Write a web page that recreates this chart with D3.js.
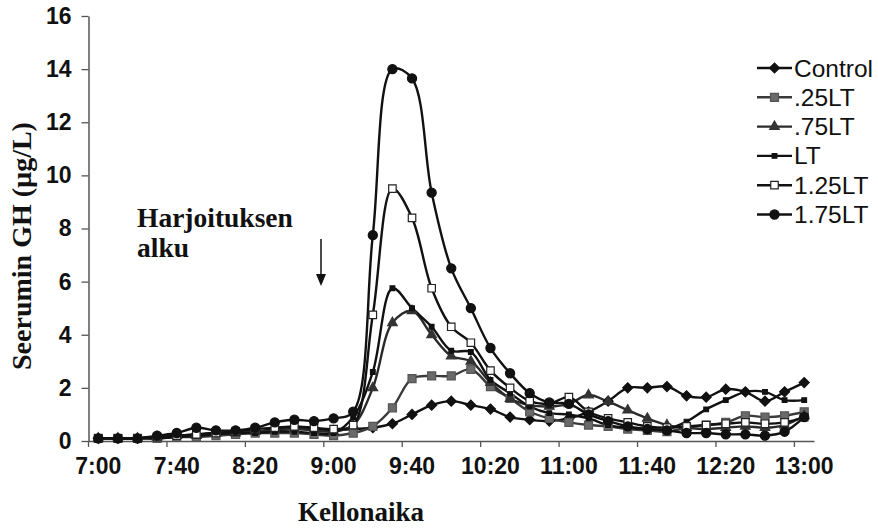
<!DOCTYPE html>
<html>
<head>
<meta charset="utf-8">
<script src="https://cdn.jsdelivr.net/npm/d3@7"></script>
<style>
  body { margin: 0; background: #fff; }
  svg { display: block; }
</style>
</head>
<body>
<div id="chart"></div>
<script>
// Chart size matches the browser window
let w = 878;
let h = 528;

// Time of day, one category every 10 minutes
const times = ["7:00","7:10","7:20","7:30","7:40","7:50","8:00","8:10","8:20","8:30","8:40","8:50",
  "9:00","9:10","9:20","9:30","9:40","9:50","10:00","10:10","10:20","10:30","10:40","10:50",
  "11:00","11:10","11:20","11:30","11:40","11:50","12:00","12:10","12:20","12:30","12:40","12:50","13:00"];
const xLabels = ["7:00","7:40","8:20","9:00","9:40","10:20","11:00","11:40","12:20","13:00"];
const yTicks = [0, 2, 4, 6, 8, 10, 12, 14, 16];

// Serum GH values (µg/L)
const control = [0.1,0.1,0.1,0.15,0.2,0.25,0.3,0.3,0.35,0.45,0.5,0.45,0.4,
  0.45,0.5,0.65,1.0,1.35,1.5,1.35,1.2,0.9,0.8,0.75,
  0.85,1.1,1.5,2.0,2.0,2.05,1.7,1.65,1.95,1.85,1.5,1.85,2.2];
const lt025 = [0.1,0.1,0.1,0.1,0.15,0.15,0.2,0.25,0.3,0.3,0.3,0.25,0.2,
  0.3,0.55,1.25,2.35,2.45,2.45,2.7,2.05,1.6,1.1,0.85,
  0.7,0.6,0.55,0.45,0.4,0.35,0.5,0.6,0.7,0.95,0.9,0.95,1.1];
const lt075 = [0.1,0.1,0.1,0.15,0.2,0.2,0.3,0.3,0.35,0.4,0.45,0.4,0.35,
  0.6,2.0,4.45,4.9,4.0,3.2,3.0,2.2,1.6,1.35,1.3,
  1.4,1.73,1.48,1.16,0.85,0.6,0.5,0.45,0.5,0.55,0.5,0.6,0.95];
const lt100 = [0.1,0.1,0.1,0.1,0.15,0.2,0.25,0.3,0.3,0.35,0.35,0.3,0.3,
  0.9,2.6,5.75,5.0,4.3,3.4,3.35,2.3,1.8,1.3,1.05,
  1.0,0.85,0.6,0.5,0.45,0.45,0.73,1.19,1.54,1.85,1.85,1.54,1.54];
const lt125 = [0.1,0.1,0.1,0.15,0.2,0.25,0.3,0.35,0.45,0.5,0.55,0.5,0.45,
  0.6,4.75,9.5,8.4,5.75,4.3,3.7,2.65,2.0,1.5,1.4,
  1.65,1.1,0.85,0.7,0.55,0.5,0.55,0.6,0.65,0.7,0.65,0.7,0.9];
const lt175 = [0.1,0.1,0.1,0.2,0.3,0.5,0.4,0.4,0.5,0.7,0.8,0.75,0.85,
  1.1,7.75,14.0,13.65,9.35,6.5,5.0,3.5,2.55,1.8,1.45,
  1.4,1.0,0.75,0.55,0.45,0.4,0.3,0.3,0.25,0.25,0.2,0.35,0.9];

const seriesNames = ["Control", ".25LT", ".75LT", "LT", "1.25LT", "1.75LT"];
const seriesValues = [control, lt025, lt075, lt100, lt125, lt175];

// Marker style for each series (Excel style markers)
const markerStyle = [
  {type: d3.symbolSquare, size: 50, rotate: 45, fill: "#111", stroke: "#111", line: "#111"},
  {type: d3.symbolSquare, size: 64, rotate: 0, fill: "#6a6a6a", stroke: "#555", line: "#3a3a3a"},
  {type: d3.symbolTriangle, size: 40, rotate: 0, fill: "#333", stroke: "#333", line: "#2a2a2a"},
  {type: d3.symbolSquare, size: 22, rotate: 0, fill: "#111", stroke: "#111", line: "#111"},
  {type: d3.symbolSquare, size: 56, rotate: 0, fill: "#fff", stroke: "#222", line: "#111"},
  {type: d3.symbolCircle, size: 66, rotate: 0, fill: "#111", stroke: "#111", line: "#111"}
];

let series = seriesNames.map((name, k) => ({
  name: name,
  style: markerStyle[k],
  points: times.map((t, i) => ({t: t, v: seriesValues[k][i]}))
}));

// Scales: band scale for the time categories, linear for GH
let xScale = d3.scaleBand()
  .domain(times)
  .range([88.5, 814])
  .padding(0);
let yScale = d3.scaleLinear()
  .domain([0, 16])
  .range([441, 16]);
let cx = t => xScale(t) + xScale.bandwidth() / 2;

let svg = d3.select("#chart").append("svg")
  .attr("width", w)
  .attr("height", h);

// Y axis
let yAxis = svg.append("g")
  .attr("transform", "translate(88.5,0)")
  .call(d3.axisLeft(yScale).tickValues(yTicks).tickSize(7).tickPadding(10).tickSizeOuter(0));
yAxis.select(".domain").attr("stroke", "#555").attr("stroke-width", 1.5);
yAxis.selectAll(".tick line").attr("stroke", "#555").attr("stroke-width", 1.3);
yAxis.selectAll(".tick text")
  .attr("font-family", "'Liberation Sans', Arial, sans-serif")
  .attr("font-weight", "bold")
  .attr("font-size", "23px")
  .attr("fill", "#111");

// X axis: labels centred on categories, tick marks on category borders
let xAxis = svg.append("g")
  .attr("transform", "translate(0,441)")
  .call(d3.axisBottom(xScale).tickValues(xLabels).tickSize(0).tickPadding(17).tickSizeOuter(0));
xAxis.select(".domain").attr("stroke", "#555").attr("stroke-width", 1.5);
xAxis.selectAll(".tick text")
  .attr("font-family", "'Liberation Sans', Arial, sans-serif")
  .attr("font-weight", "bold")
  .attr("font-size", "23px")
  .attr("fill", "#111");
svg.append("g").selectAll("line")
  .data(xLabels)
  .enter()
  .append("line")
  .attr("x1", d => xScale(d))
  .attr("x2", d => xScale(d))
  .attr("y1", 441)
  .attr("y2", 447)
  .attr("stroke", "#555")
  .attr("stroke-width", 1.3);

// Lines (smoothed like the Excel original)
let line = d3.line()
  .x(d => cx(d.t))
  .y(d => yScale(d.v))
  .curve(d3.curveCatmullRom.alpha(0.5));

svg.append("g").selectAll("path")
  .data(series)
  .enter()
  .append("path")
  .attr("d", d => line(d.points))
  .attr("fill", "none")
  .attr("stroke", d => d.style.line)
  .attr("stroke-width", 2.4);

// Markers
let markerGroups = svg.append("g").selectAll("g")
  .data(series)
  .enter()
  .append("g");
markerGroups.selectAll("path")
  .data(d => d.points.map(p => ({p: p, s: d.style})))
  .enter()
  .append("path")
  .attr("d", d => d3.symbol().type(d.s.type).size(d.s.size)())
  .attr("transform", d => "translate(" + cx(d.p.t) + "," + yScale(d.p.v) + ") rotate(" + d.s.rotate + ")")
  .attr("fill", d => d.s.fill)
  .attr("stroke", d => d.s.stroke)
  .attr("stroke-width", 1.2);

// Legend
let legend = svg.append("g").attr("id", "legend");
let legendRows = legend.selectAll("g")
  .data(series)
  .enter()
  .append("g")
  .attr("transform", (d, i) => "translate(0," + (68 + i * 29.3) + ")");
legendRows.append("line")
  .attr("x1", 757)
  .attr("x2", 792)
  .attr("y1", 0)
  .attr("y2", 0)
  .attr("stroke", d => d.style.line)
  .attr("stroke-width", 2.4);
legendRows.append("path")
  .attr("d", d => d3.symbol().type(d.style.type).size(d.style.size)())
  .attr("transform", d => "translate(774.5,0) rotate(" + d.style.rotate + ")")
  .attr("fill", d => d.style.fill)
  .attr("stroke", d => d.style.stroke)
  .attr("stroke-width", 1.2);
legendRows.append("text")
  .attr("x", 794)
  .attr("y", 8.5)
  .attr("font-family", "'Liberation Sans', Arial, sans-serif")
  .attr("font-size", "24.5px")
  .attr("fill", "#111")
  .text(d => d.name);

// Axis titles
svg.append("text")
  .attr("transform", "translate(31,246) rotate(-90)")
  .attr("text-anchor", "middle")
  .attr("font-family", "'Liberation Serif', 'Times New Roman', serif")
  .attr("font-weight", "bold")
  .attr("font-size", "28px")
  .attr("fill", "#111")
  .text("Seerumin GH (µg/L)");
svg.append("text")
  .attr("x", 361)
  .attr("y", 521)
  .attr("text-anchor", "middle")
  .attr("font-family", "'Liberation Serif', 'Times New Roman', serif")
  .attr("font-weight", "bold")
  .attr("font-size", "27px")
  .attr("fill", "#111")
  .text("Kellonaika");

// Annotation: start of exercise with arrow
let note = svg.append("text")
  .attr("font-family", "'Liberation Serif', 'Times New Roman', serif")
  .attr("font-weight", "bold")
  .attr("font-size", "27.5px")
  .attr("fill", "#111");
note.append("tspan").attr("x", 137).attr("y", 227).text("Harjoituksen");
note.append("tspan").attr("x", 137).attr("y", 257).text("alku");
svg.append("line")
  .attr("x1", 321)
  .attr("x2", 321)
  .attr("y1", 239)
  .attr("y2", 276)
  .attr("stroke", "#111")
  .attr("stroke-width", 1.5);
svg.append("path")
  .attr("d", "M316,274 L326,274 L321,286 Z")
  .attr("fill", "#111");
</script>
</body>
</html>
